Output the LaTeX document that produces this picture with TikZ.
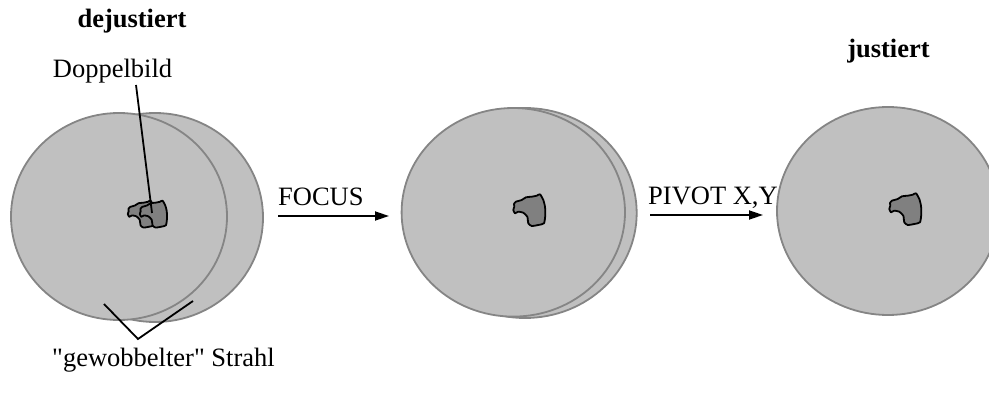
\documentclass[tikz,border=0pt]{standalone}
\usepackage{fontspec}
\setmainfont{Liberation Serif}[Ligatures=TeXOff]
\usetikzlibrary{arrows.meta}
\definecolor{discfill}{HTML}{C0C0C0}
\definecolor{discline}{HTML}{858585}
\definecolor{blobfill}{HTML}{808080}
\tikzset{
  disc/.style={fill=discfill, draw=discline, line width=1.8pt},
  blobstyle/.style={fill=blobfill, draw=black, line width=1.8pt, line join=round},
  blob/.pic={\path[blobstyle] plot[smooth cycle, tension=0.35] coordinates {
      (-16,-6) (-14,-8.3) (-8.3,-10) (-4,-12.7) (1.7,-13.3) (6.7,-14.3) (10,-15.7)
      (13.3,-10) (15,-3.3) (15.3,5) (14,13.3) (8.3,15) (1.7,16) (-1.7,13.3)
      (-2.7,6.7) (-6.7,2.7) (-11.7,1.7) (-15,3.3) (-16.7,0) (-15.7,-3.3)};},
  lbl/.style={inner sep=0pt, font=\fontsize{26.5}{30}\selectfont},
  boldlbl/.style={lbl, font=\fontsize{26.5}{30}\selectfont\bfseries},
  leader/.style={draw=black, line width=1.8pt},
  arr/.style={draw=black, line width=1.8pt, -{Triangle[length=14pt,width=9pt]}}
}
\begin{document}
\begin{tikzpicture}[x=1pt,y=-1pt]
\useasboundingbox (0,0) rectangle (989,401);
\clip (0,0) rectangle (989,401);
% left group (dejustiert)
\path[disc] (155,217.5) ellipse [x radius=108pt, y radius=104.5pt];
\path[disc] (119,216.5) ellipse [x radius=108pt, y radius=103.5pt];
\pic[scale=0.85] at (142,214) {blob};
\pic[scale=0.85] at (154,214) {blob};
% middle group
\path[disc] (525,213) ellipse [x radius=111.7pt, y radius=105pt];
\path[disc] (513.3,212.3) ellipse [x radius=111.7pt, y radius=104.3pt];
\pic at (530,210) {blob};
% right group
\path[disc] (888,211) ellipse [x radius=111pt, y radius=104pt];
\pic at (906,209) {blob};
% labels
\node[boldlbl, anchor=base] (dej) at (132,28) {dejustiert};
\node[boldlbl, anchor=base] (jus) at (888.5,58) {justiert};
\node[lbl, anchor=base] (dop) at (112.5,78) {Doppelbild};
\node[lbl, anchor=base west] (foc) at (278,206) {FOCUS};
\node[lbl, anchor=base west] (piv) at (648,205) {PIVOT X,Y};
\node[lbl, anchor=base west] (gew) at (52,366) {"gewobbelter" Strahl};
% connectors
\coordinate (dopend) at (152,213);
\coordinate (vapex) at (138,339);
\coordinate (vleft) at (104,304);
\coordinate (vright) at (193,301);
\coordinate (f1) at (278,216);
\coordinate (f2) at (389,216);
\coordinate (p1) at (650,215);
\coordinate (p2) at (763,215);
\draw[leader] (136,85) -- (dopend);
\draw[leader] (vleft) -- (vapex) -- (vright);
\draw[arr] (f1) -- (f2);
\draw[arr] (p1) -- (p2);
\end{tikzpicture}
\end{document}
